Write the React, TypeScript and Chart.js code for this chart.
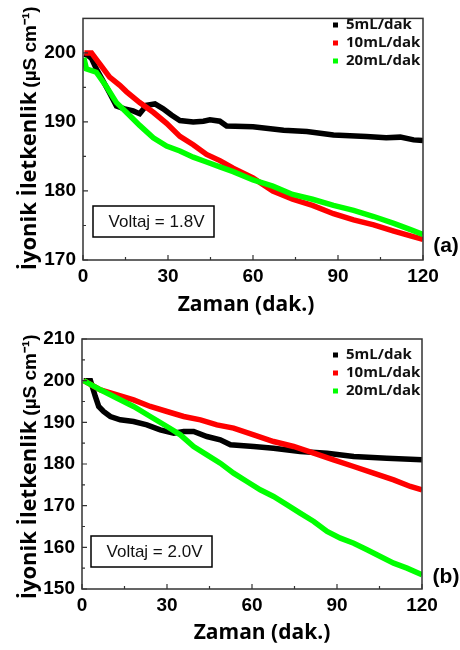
import React, { useEffect, useRef } from "react";
import { Chart, registerables } from "chart.js";
Chart.register(...registerables);

// ---------- Data (a): Voltaj = 1.8V ----------
const tA5 = [0.5, 1.8, 3, 4.7, 7, 9.4, 11.8, 14.7, 17.7, 20, 22.4, 25.4, 28.3, 31.2, 34.2, 38.9, 42.5, 44.8, 48.3, 50.7, 60, 70.8, 79, 88.4, 100, 107, 112, 116.7, 120];
const vA5 = [199.8, 199.6, 199.2, 197.7, 196.0, 194.2, 192.3, 191.9, 191.6, 191.2, 192.4, 192.6, 191.9, 191.0, 190.2, 190.0, 190.1, 190.3, 190.1, 189.4, 189.3, 188.8, 188.6, 188.1, 187.9, 187.7, 187.8, 187.4, 187.3];
const tA10 = [0.5, 3, 5.9, 9.4, 13, 15.3, 20, 24.8, 29.5, 34.2, 38.9, 43.6, 48.3, 53, 60, 67, 74, 81, 88.4, 95.5, 102.6, 109.7, 115.6, 120];
const vA10 = [200.0, 200.0, 198.4, 196.5, 195.3, 194.4, 192.8, 191.4, 189.8, 187.9, 186.7, 185.3, 184.4, 183.3, 181.9, 180.0, 178.8, 177.9, 176.7, 175.8, 175.1, 174.2, 173.5, 173.0];
const tA20 = [0.3, 1.2, 4.7, 8.3, 11.8, 15.3, 20, 24.8, 29.5, 34.2, 38.9, 43.6, 48.3, 53, 60, 67, 74, 81, 88.4, 95.5, 102.6, 109.7, 115.6, 120];
const vA20 = [199.3, 197.7, 197.2, 195.1, 192.8, 191.4, 189.5, 187.7, 186.5, 185.8, 184.9, 184.2, 183.5, 182.8, 181.6, 180.7, 179.5, 178.8, 177.9, 177.2, 176.3, 175.3, 174.4, 173.7];

// ---------- Data (b): Voltaj = 2.0V ----------
const tB5 = [0.6, 3, 4.7, 5.9, 7.6, 10, 13.5, 18.2, 22.9, 27.6, 32.4, 35.9, 39.4, 44.1, 48.8, 52.4, 60.6, 67.6, 77, 86.5, 95.9, 107.6, 120];
const vB5 = [200.0, 200.0, 196.2, 193.8, 192.6, 191.4, 190.6, 190.2, 189.4, 188.2, 187.4, 187.8, 187.8, 186.6, 185.8, 184.6, 184.2, 183.8, 183.0, 182.6, 181.8, 181.4, 181.0];
const tB10 = [0.6, 6.5, 12.4, 18.2, 24.1, 30, 35.9, 41.8, 47.6, 53.5, 60.6, 67.6, 74.7, 81.8, 88.8, 95.9, 102.9, 110, 115.9, 120];
const vB10 = [200.0, 197.8, 196.6, 195.4, 193.8, 192.6, 191.4, 190.6, 189.4, 188.6, 187.0, 185.4, 184.2, 182.6, 181.0, 179.4, 177.8, 176.2, 174.6, 173.8];
const tB20 = [0.6, 6.5, 12.4, 18.2, 24.1, 30, 34.7, 39.4, 44.1, 48.8, 53.5, 58.2, 62.9, 67.6, 72.4, 77, 81.8, 86.5, 91.2, 95.9, 100.6, 105.3, 110, 114.7, 120];
const vB20 = [200.0, 197.8, 195.8, 193.8, 191.4, 189.0, 187.0, 184.2, 182.2, 180.2, 177.8, 175.8, 173.8, 172.2, 170.2, 168.2, 166.2, 163.8, 162.2, 161.0, 159.4, 157.8, 156.2, 155.0, 153.4];

// ---------- Labels / ticks ----------
const seriesNames = ["5mL/dak", "10mL/dak", "20mL/dak"];
const seriesColors = ["#000000", "#ff0000", "#00ff00"];
const xMajorTicks = [0, 30, 60, 90, 120];
const xMinorTicks = [15, 45, 75, 105];
const yMajorTicksA = [170, 180, 190, 200];
const yMinorTicksA = [175, 185, 195];
const yMajorTicksB = [150, 160, 170, 180, 190, 200, 210];
const yMinorTicksB = [155, 165, 175, 185, 195, 205];
const xTitle = "Zaman (dak.)";
const yTitleMain = "İyonik İletkenlik";
const yTitleUnit = "(µS cm⁻¹)";
const voltageA = "Voltaj = 1.8V";
const voltageB = "Voltaj = 2.0V";

const ARIAL = "'Liberation Sans', Arial, sans-serif";
const OPEN = "'Open Sans', 'Liberation Sans', sans-serif";

type Panel = {
  height: number;
  pad: { top: number; right: number };
  yWidth: number;
  xHeight: number;
  yMin: number;
  yMax: number;
  yMajor: number[];
  yMinor: number[];
  series: { t: number[]; v: number[] }[];
  voltage: string;
  box: { x: number; y: number; w: number; h: number };
  panelLabel: string;
  panelLabelPos: { x: number; y: number };
  xTitlePos: { x: number; y: number };
  yMainCenter: number;
  yUnitCenter: number;
  legendY: number;
};

const panelA: Panel = {
  height: 320,
  pad: { top: 10, right: 37 },
  yWidth: 83,
  xHeight: 60,
  yMin: 170,
  yMax: 205,
  yMajor: yMajorTicksA,
  yMinor: yMinorTicksA,
  series: [
    { t: tA5, v: vA5 },
    { t: tA10, v: vA10 },
    { t: tA20, v: vA20 },
  ],
  voltage: voltageA,
  box: { x: 93, y: 206, w: 121, h: 31 },
  panelLabel: "(a)",
  panelLabelPos: { x: 446, y: 246 },
  xTitlePos: { x: 246, y: 305 },
  yMainCenter: 181,
  yUnitCenter: 47,
  legendY: 25,
};

const panelB: Panel = {
  height: 330,
  pad: { top: 19, right: 38 },
  yWidth: 82,
  xHeight: 61,
  yMin: 150,
  yMax: 210,
  yMajor: yMajorTicksB,
  yMinor: yMinorTicksB,
  series: [
    { t: tB5, v: vB5 },
    { t: tB10, v: vB10 },
    { t: tB20, v: vB20 },
  ],
  voltage: voltageB,
  box: { x: 91, y: 216, w: 121, h: 31 },
  panelLabel: "(b)",
  panelLabelPos: { x: 446, y: 257 },
  xTitlePos: { x: 262, y: 313 },
  yMainCenter: 190,
  yUnitCenter: 55,
  legendY: 35,
};

function makeDecor(p: Panel) {
  return {
    id: "decor",
    afterDraw(chart: any) {
      const ctx = chart.ctx as CanvasRenderingContext2D;
      const a = chart.chartArea;
      const xs = chart.scales.x;
      const ys = chart.scales.y;
      ctx.save();
      // frame
      ctx.strokeStyle = "#333";
      ctx.lineWidth = 1.5;
      ctx.strokeRect(a.left, a.top, a.right - a.left, a.bottom - a.top);
      // inward ticks
      ctx.lineWidth = 1.2;
      ctx.beginPath();
      xMajorTicks.forEach((v) => {
        const x = xs.getPixelForValue(v);
        ctx.moveTo(x, a.bottom);
        ctx.lineTo(x, a.bottom - 5);
      });
      xMinorTicks.forEach((v) => {
        const x = xs.getPixelForValue(v);
        ctx.moveTo(x, a.bottom);
        ctx.lineTo(x, a.bottom - 3);
      });
      p.yMajor.forEach((v) => {
        const y = ys.getPixelForValue(v);
        ctx.moveTo(a.left, y);
        ctx.lineTo(a.left + 5, y);
      });
      p.yMinor.forEach((v) => {
        const y = ys.getPixelForValue(v);
        ctx.moveTo(a.left, y);
        ctx.lineTo(a.left + 3, y);
      });
      ctx.stroke();

      // legend
      ctx.textBaseline = "middle";
      ctx.textAlign = "left";
      ctx.font = `bold 15px ${OPEN}`;
      seriesNames.forEach((n, i) => {
        const y = p.legendY + i * 18;
        ctx.fillStyle = seriesColors[i];
        ctx.fillRect(333, y - 2.5, 5, 5);
        ctx.fillStyle = "#111";
        ctx.fillText(n, 346, y);
      });

      // voltage box
      ctx.strokeStyle = "#000";
      ctx.lineWidth = 1.5;
      ctx.fillStyle = "#fff";
      ctx.fillRect(p.box.x, p.box.y, p.box.w, p.box.h);
      ctx.strokeRect(p.box.x, p.box.y, p.box.w, p.box.h);
      ctx.fillStyle = "#111";
      ctx.font = `17px ${ARIAL}`;
      ctx.textAlign = "center";
      ctx.fillText(p.voltage, p.box.x + p.box.w / 2 + 3, p.box.y + p.box.h / 2 + 1);

      // panel label
      ctx.font = `bold 21px ${ARIAL}`;
      ctx.fillStyle = "#000";
      ctx.fillText(p.panelLabel, p.panelLabelPos.x, p.panelLabelPos.y);

      // x title
      ctx.font = `bold 21px ${OPEN}`;
      ctx.fillText(xTitle, p.xTitlePos.x, p.xTitlePos.y);

      // y title
      ctx.save();
      ctx.translate(30, p.yMainCenter);
      ctx.rotate(-Math.PI / 2);
      ctx.font = `bold 22px ${OPEN}`;
      ctx.fillText(yTitleMain, 0, 0);
      ctx.restore();
      ctx.save();
      ctx.translate(31, p.yUnitCenter);
      ctx.rotate(-Math.PI / 2);
      ctx.font = `bold 19px ${ARIAL}`;
      ctx.fillText(yTitleUnit, 0, 0);
      ctx.restore();

      ctx.restore();
    },
  };
}

function PanelChart({ p }: { p: Panel }) {
  const ref = useRef<HTMLCanvasElement | null>(null);
  useEffect(() => {
    if (!ref.current) return;
    const datasets = p.series.map((s, i) => ({
      label: seriesNames[i],
      data: s.t.map((t, j) => ({ x: t, y: s.v[j] })),
      borderColor: seriesColors[i],
      backgroundColor: seriesColors[i],
      borderWidth: 5.5,
      pointRadius: 0,
      tension: 0,
      borderCapStyle: "butt" as const,
      order: 2 - i,
    }));
    const chart = new Chart(ref.current, {
      type: "line",
      data: { datasets },
      options: {
        responsive: false,
        animation: false,
        devicePixelRatio: 1,
        layout: { padding: { top: p.pad.top, right: p.pad.right, left: 0, bottom: 0 } },
        plugins: { legend: { display: false }, tooltip: { enabled: false } },
        scales: {
          x: {
            type: "linear",
            min: 0,
            max: 120,
            afterBuildTicks: (s: any) => {
              s.ticks = xMajorTicks.map((v) => ({ value: v }));
            },
            afterFit: (s: any) => {
              s.height = p.xHeight;
            },
            grid: { display: false, drawTicks: false },
            border: { display: false },
            ticks: {
              padding: 5,
              color: "#000",
              font: { family: ARIAL, size: 19, weight: "bold" },
              maxRotation: 0,
            },
          },
          y: {
            type: "linear",
            min: p.yMin,
            max: p.yMax,
            afterBuildTicks: (s: any) => {
              s.ticks = p.yMajor.map((v) => ({ value: v }));
            },
            afterFit: (s: any) => {
              s.width = p.yWidth;
            },
            grid: { display: false, drawTicks: false },
            border: { display: false },
            ticks: {
              padding: 7,
              color: "#000",
              font: { family: ARIAL, size: 19, weight: "bold" },
            },
          },
        },
      } as any,
      plugins: [makeDecor(p)],
    });
    return () => chart.destroy();
  }, [p]);
  return (
    <div style={{ width: 460, height: p.height }}>
      <canvas ref={ref} width={460} height={p.height} style={{ display: "block" }} />
    </div>
  );
}

export default function App() {
  return (
    <div style={{ position: "fixed", left: 0, top: 0, width: 460, height: 650, background: "#fff" }}>
      <PanelChart p={panelA} />
      <PanelChart p={panelB} />
    </div>
  );
}
